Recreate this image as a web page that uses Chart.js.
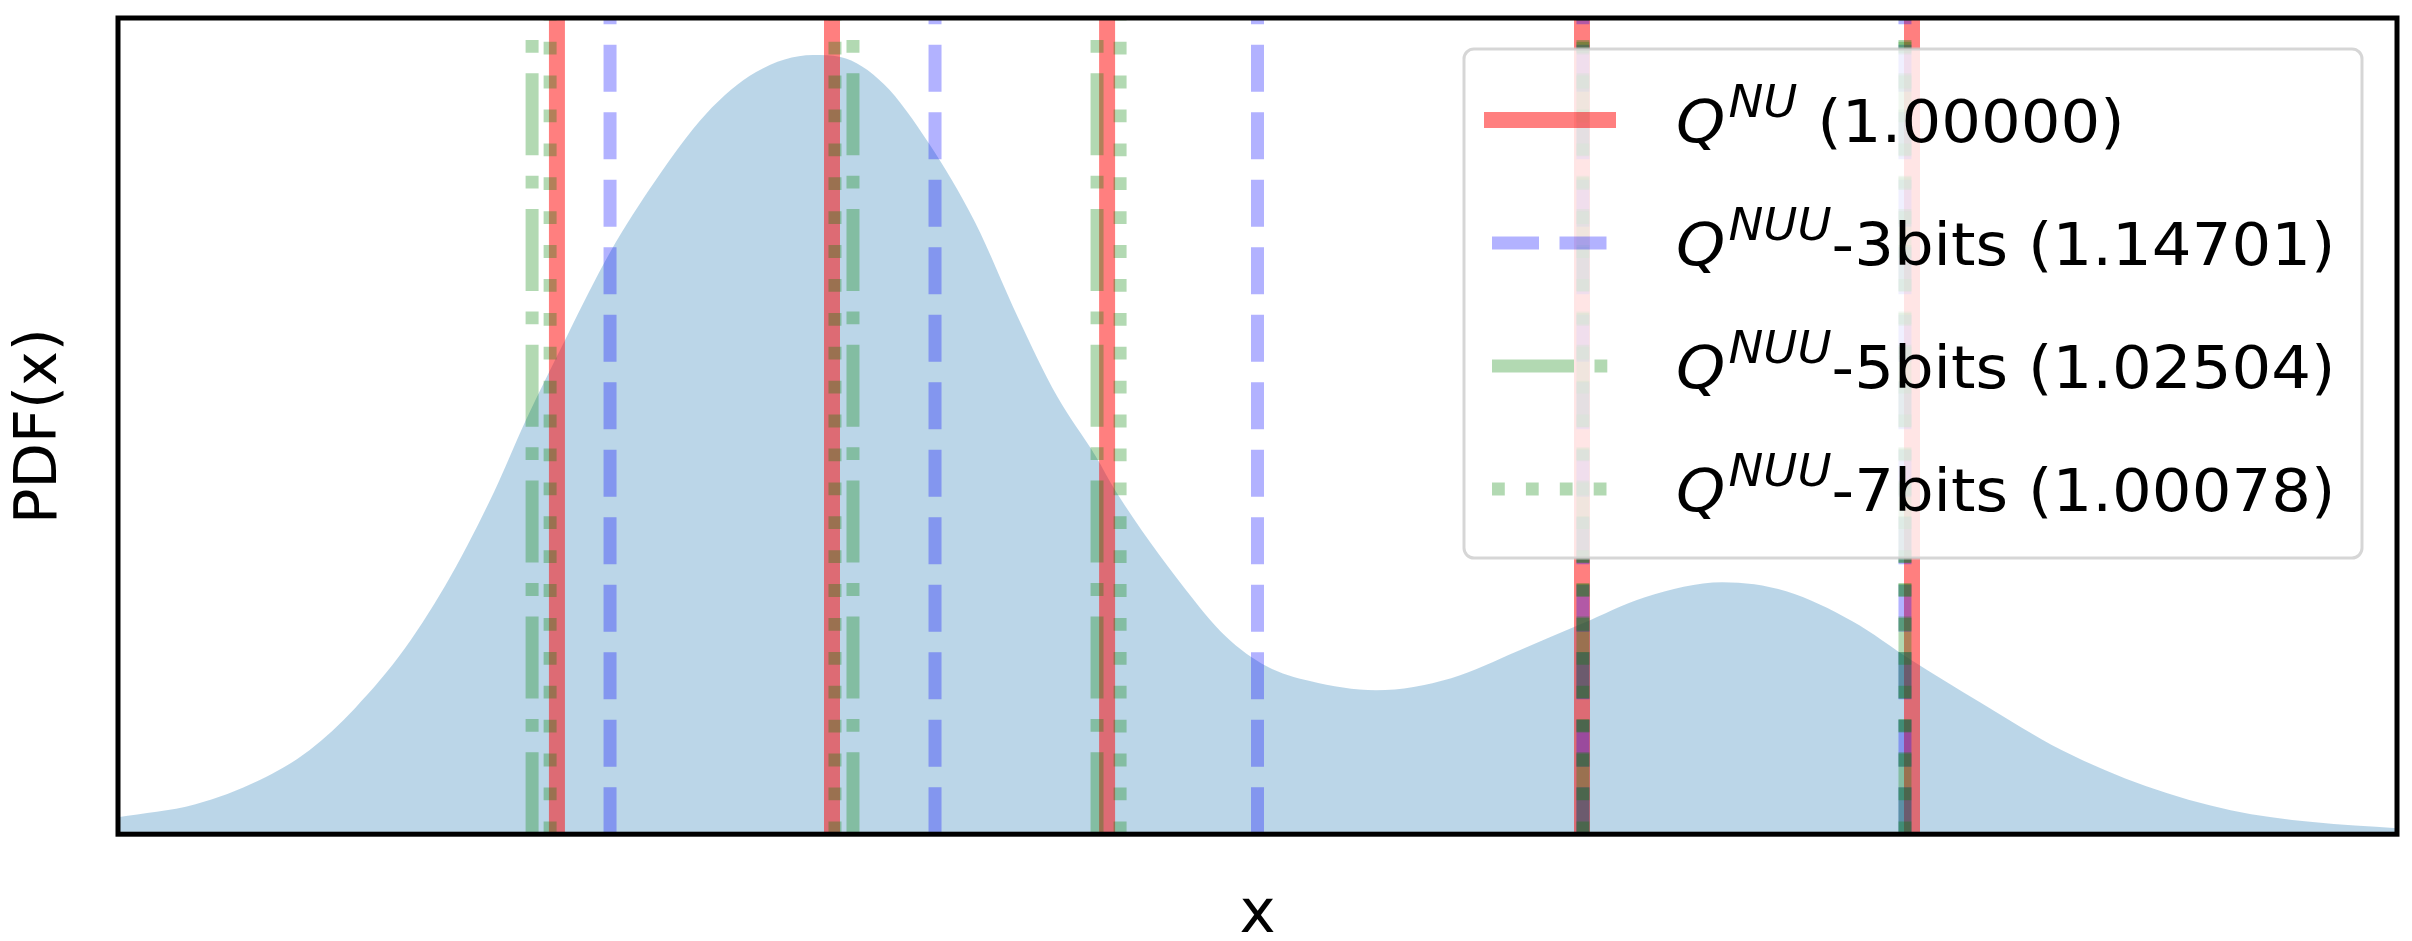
<!DOCTYPE html>
<html>
<head>
<meta charset="utf-8">
<title>PDF(x) with quantization levels</title>
<script src="https://cdn.jsdelivr.net/npm/chart.js@4/dist/chart.umd.min.js"></script>
<style>
    html, body { margin: 0; padding: 0; background: #fff; }
    #wrap { width: 2412px; height: 941px; }
</style>
</head>
<body>
<div id="wrap"><canvas id="pdf-chart" width="2412" height="941"></canvas></div>
<script>
// density curve (x runs -5..5, y runs 0..0.5)
const pdfX = [-5.00, -4.66, -4.38, -4.16, -3.96, -3.74, -3.54, -3.35, -3.21, -3.03,
              -2.84, -2.64, -2.42, -2.20, -1.95, -1.83, -1.64, -1.44, -1.24, -1.05,
              -0.88, -0.71, -0.62, -0.32, -0.14, 0.04, 0.23, 0.52, 0.85, 1.14,
              1.42, 1.70, 2.04, 2.32, 2.61, 2.87, 3.17, 3.53, 3.90, 4.27,
              4.63, 5.00];
const pdfY = [0.0104, 0.0184, 0.0331, 0.0515, 0.0772, 0.1140, 0.1581, 0.2096, 0.2537, 0.3051,
              0.3566, 0.4007, 0.4412, 0.4669, 0.4773, 0.4761, 0.4596, 0.4228, 0.3750, 0.3162,
              0.2684, 0.2316, 0.2096, 0.1507, 0.1213, 0.1029, 0.0938, 0.0882, 0.0956, 0.1121,
              0.1287, 0.1452, 0.1544, 0.1489, 0.1305, 0.1066, 0.0809, 0.0515, 0.0294, 0.0147,
              0.0074, 0.0037];

// quantization levels of each scheme
const levelsNU = [-3.074, -1.867, -0.660, 1.424, 2.872];
const levels3bits = [-2.841, -1.415, 0.000, 1.428, 2.841];
const levels5bits = [-3.183, -1.775, -0.704, 1.428, 2.841];
const levels7bits = [-3.104, -1.854, -0.603, 1.428, 2.841];

// legend text: italic Q, superscript, then the rest
const legendSup = ['NU', 'NUU', 'NUU', 'NUU'];
const legendTail = [' (1.00000)', '-3bits (1.14701)', '-5bits (1.02504)', '-7bits (1.00078)'];

const X_MIN = -5, X_MAX = 5, Y_MAX = 0.5;
const FONT = '"DejaVu Sans", "Liberation Sans", sans-serif';

// every level becomes a bottom-to-top segment, split by a gap point
function levelLines(levels) {
    const pts = [];
    levels.forEach(x => {
        pts.push({x: x, y: 0}, {x: x, y: Y_MAX}, {x: x, y: null});
    });
    return pts;
}

const frameAndLegend = {
    id: 'frameAndLegend',
    afterDraw(chart) {
        const {ctx, chartArea: a} = chart;
        ctx.save();

        // axes frame
        ctx.strokeStyle = '#000';
        ctx.lineWidth = 5;
        ctx.strokeRect(a.left, a.top, a.right - a.left, a.bottom - a.top);

        // legend box, upper right, semi transparent
        const box = {left: a.right - 933, top: a.top + 31, width: 898, height: 509};
        ctx.beginPath();
        ctx.roundRect(box.left, box.top, box.width, box.height, 10);
        ctx.fillStyle = 'rgba(255,255,255,0.8)';
        ctx.fill();
        ctx.lineWidth = 3;
        ctx.strokeStyle = 'rgba(204,204,204,0.8)';
        ctx.stroke();

        const lineSets = chart.data.datasets.slice(1);
        lineSets.forEach((ds, i) => {
            const rowY = box.top + 71 + i * 123;

            // handle
            ctx.save();
            ctx.strokeStyle = ds.borderColor;
            ctx.lineWidth = ds.borderWidth;
            ctx.setLineDash(ds.borderDash || []);
            ctx.lineCap = ds.borderDash ? 'butt' : 'square';
            ctx.beginPath();
            ctx.moveTo(box.left + 28, rowY);
            ctx.lineTo(box.left + 144, rowY);
            ctx.stroke();
            ctx.restore();

            // label
            ctx.save();
            ctx.translate(box.left + 212, rowY + 22);
            ctx.scale(1.06, 1);
            ctx.fillStyle = '#000';
            ctx.textAlign = 'left';
            ctx.textBaseline = 'alphabetic';
            ctx.font = 'italic 59px ' + FONT;
            ctx.fillText('Q', 0, 0);
            let cx = ctx.measureText('Q').width + 3;
            ctx.font = 'italic 44px ' + FONT;
            ctx.fillText(legendSup[i], cx, -25);
            cx += ctx.measureText(legendSup[i]).width;
            ctx.font = '59px ' + FONT;
            ctx.fillText(legendTail[i], cx, 0);
            ctx.restore();
        });

        ctx.restore();
    }
};

const lineBase = {pointRadius: 0, pointHoverRadius: 0, fill: false, tension: 0, spanGaps: false, borderCapStyle: 'butt'};

new Chart(document.getElementById('pdf-chart'), {
    type: 'line',
    data: {
        datasets: [
            {
                label: 'PDF',
                data: pdfX.map((x, i) => ({x: x, y: pdfY[i]})),
                borderColor: 'rgba(0,0,0,0)',
                borderWidth: 0,
                backgroundColor: 'rgba(31,119,180,0.3)',
                fill: 'origin',
                pointRadius: 0,
                cubicInterpolationMode: 'monotone',
                order: 5
            },
            Object.assign({}, lineBase, {
                label: 'NU',
                data: levelLines(levelsNU),
                borderColor: 'rgba(255,0,0,0.5)',
                borderWidth: 16,
                order: 4
            }),
            Object.assign({}, lineBase, {
                label: 'NUU-3bits',
                data: levelLines(levels3bits),
                borderColor: 'rgba(0,0,255,0.3)',
                borderWidth: 13,
                borderDash: [47, 20.5],
                order: 3
            }),
            Object.assign({}, lineBase, {
                label: 'NUU-5bits',
                data: levelLines(levels5bits),
                borderColor: 'rgba(0,128,0,0.3)',
                borderWidth: 13,
                borderDash: [82, 20.5, 12.8, 20.5],
                order: 2
            }),
            Object.assign({}, lineBase, {
                label: 'NUU-7bits',
                data: levelLines(levels7bits),
                borderColor: 'rgba(0,128,0,0.3)',
                borderWidth: 13,
                borderDash: [12.8, 21.1],
                order: 1
            })
        ]
    },
    options: {
        responsive: false,
        animation: false,
        events: [],
        layout: {padding: {left: 11, right: 15, top: 18, bottom: 0}},
        plugins: {
            legend: {display: false},
            tooltip: {enabled: false}
        },
        scales: {
            x: {
                type: 'linear',
                min: X_MIN,
                max: X_MAX,
                ticks: {display: false},
                grid: {display: false, drawTicks: false},
                border: {display: false},
                title: {
                    display: true,
                    text: 'x',
                    color: '#000',
                    font: {family: FONT, size: 61, lineHeight: 0.8},
                    padding: {top: 58, bottom: 0}
                }
            },
            y: {
                type: 'linear',
                min: 0,
                max: Y_MAX,
                ticks: {display: false},
                grid: {display: false, drawTicks: false},
                border: {display: false},
                title: {
                    display: true,
                    text: 'PDF(x)',
                    color: '#000',
                    font: {family: FONT, size: 59, lineHeight: 1},
                    padding: {top: 0, bottom: 48}
                }
            }
        }
    },
    plugins: [frameAndLegend]
});
</script>
</body>
</html>
